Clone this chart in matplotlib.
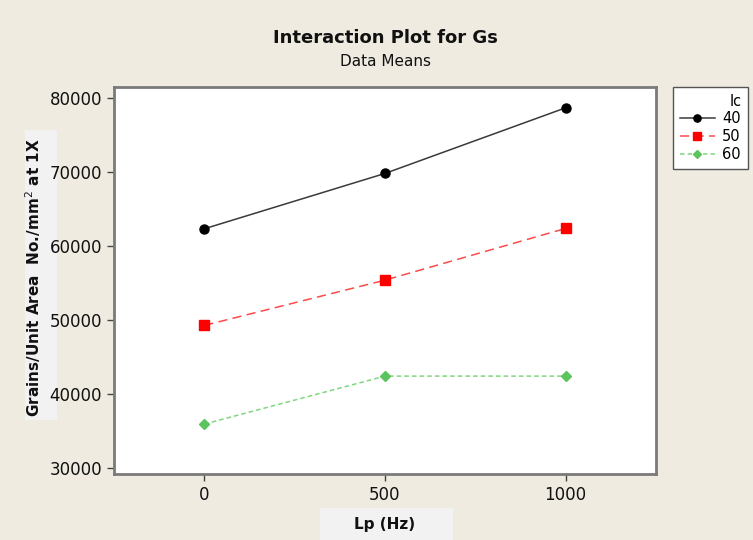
import matplotlib
matplotlib.use("Agg")
import matplotlib.pyplot as plt
from matplotlib.patches import Rectangle

# Factor levels and cell means
lp_levels = [0, 500, 1000]
lc_levels = ["40", "50", "60"]
means_40 = [62340, 69820, 78690]
means_50 = [49280, 55400, 62390]
means_60 = [35950, 42430, 42430]
y_ticks = [30000, 40000, 50000, 60000, 70000, 80000]

bg = "#EFEBE1"
fig = plt.figure(figsize=(7.53, 5.40), dpi=100, facecolor=bg)
ax = fig.add_axes([114/753, 1 - 474/540, (656 - 114)/753, (474 - 87)/540])
ax.set_facecolor("white")

styles = [
    dict(color="#3a3a3a", mfc="black", mec="black", marker="o", ls="-", lw=1.1, ms=6.5),
    dict(color="#ff4a4a", mfc="#ff0000", mec="#ff0000", marker="s", ls=(0, (6, 3.5)), lw=1.1, ms=6.5),
    dict(color="#7ed67e", mfc="#5cc45c", mec="#5cc45c", marker="D", ls=(0, (3, 2)), lw=1.1, ms=5.5),
]
handles = []
for lab, vals, st in zip(lc_levels, [means_40, means_50, means_60], styles):
    h, = ax.plot(lp_levels, vals, label=lab, **st)
    handles.append(h)

ax.set_xlim(-250, 1250)
ax.set_ylim(29200, 81500)
ax.set_xticks(lp_levels)
ax.set_yticks(y_ticks)
ax.tick_params(labelsize=12, length=5, width=1, color="#444444", labelcolor="#111111")
for sp in ax.spines.values():
    sp.set_color("#7a7a7a")
    sp.set_linewidth(2)

fig.text(385/753, 1 - 38/540, "Interaction Plot for Gs", ha="center", va="center",
         fontsize=13, fontweight="bold", color="#111111")
fig.text(385/753, 1 - 62/540, "Data Means", ha="center", va="center",
         fontsize=11, color="#111111")

# Axis label panels (kept behind the tick labels)
fig.patches.append(Rectangle((25/753, 1 - 420/540), 32/753, 290/540, zorder=-1,
                             transform=fig.transFigure, facecolor="#F2F2F2", edgecolor="none"))
fig.text(33/753, 1 - 278/540, "Grains/Unit Area  No./mm$^2$ at 1X", rotation=90,
         ha="center", va="center", fontsize=11, fontweight="bold", color="#111111")
fig.patches.append(Rectangle((320/753, 0), 133/753, 32/540, zorder=-1,
                             transform=fig.transFigure, facecolor="#F2F2F2", edgecolor="none"))
fig.text(385/753, 1 - 524/540, "Lp (Hz)", ha="center", va="center",
         fontsize=11, fontweight="bold", color="#111111")

leg = fig.legend(handles=handles, labels=lc_levels, title="lc", loc="upper left",
                 bbox_to_anchor=(673/753, 1 - 173/540, 75/753, 86/540), mode="expand",
                 fontsize=10.5, title_fontsize=10.5, alignment="right",
                 frameon=True, fancybox=False, handlelength=2.4, markerscale=0.8,
                 handletextpad=0.5, borderpad=0.45, labelspacing=0.2, borderaxespad=0)
leg.get_frame().set_edgecolor("#555555")
leg.get_frame().set_linewidth(1)
leg.get_frame().set_facecolor("white")
leg.get_frame().set_alpha(1)

fig.savefig("out.png", dpi=100, facecolor=bg)
